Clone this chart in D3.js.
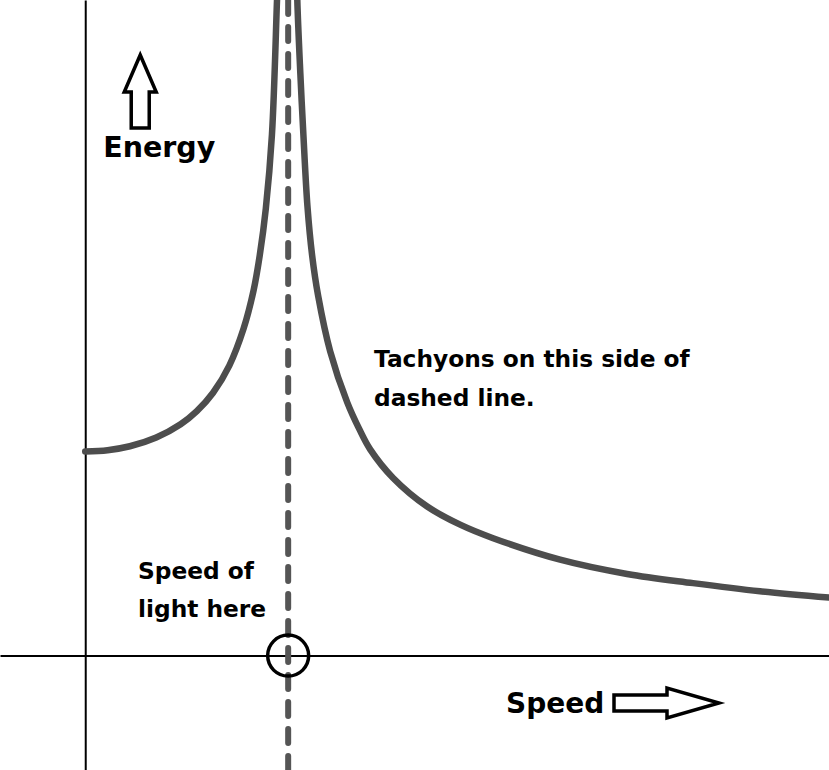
<!DOCTYPE html>
<html>
<head>
<meta charset="utf-8">
<script src="https://cdn.jsdelivr.net/npm/d3@7"></script>
<style>
  html, body { margin: 0; padding: 0; background: #fff; }
  svg { display: block; }
  text { font-family: "DejaVu Sans", sans-serif; font-weight: 700; fill: #000; }
</style>
</head>
<body>
<div id="chart"></div>
<script>
// ---- data (speed in units of c, energy in units of mc^2) ----
const speedBelowC  = [0.00, 0.11, 0.22, 0.35, 0.47, 0.55, 0.63, 0.71, 0.78, 0.83, 0.86, 0.89, 0.92, 0.945, 0.955];
const energyBelowC = [1.00, 1.006, 1.025, 1.068, 1.133, 1.197, 1.287, 1.42, 1.60, 1.79, 1.96, 2.19, 2.55, 3.21, 3.50];

const speedAboveC  = [1.04, 1.045, 1.06, 1.074, 1.095, 1.118, 1.148, 1.207, 1.291, 1.35, 1.404, 1.517, 1.685, 1.85, 2.01, 2.34, 2.67, 2.995, 3.325, 3.665];
const energyAboveC = [3.50, 3.21, 2.85, 2.57, 2.20, 1.96, 1.76, 1.49, 1.24, 1.11, 1.01, 0.87, 0.73, 0.64, 0.575, 0.47, 0.40, 0.355, 0.315, 0.284];

const lightSpeed = [1];
const xAxisLabel = "Speed";
const yAxisLabel = "Energy";
const noteTachyons = ["Tachyons on this side of", "dashed line."];
const noteLight = ["Speed of", "light here"];

const speedDomain = [-0.42, 3.665];
const energyDomain = [-0.56, 3.21];

// ---- layout ----
const W = 829, H = 770;
const svg = d3.select("#chart").append("svg").attr("width", W).attr("height", H);

const x = d3.scaleLinear().domain(speedDomain).range([0, W]);
const y = d3.scaleLinear().domain(energyDomain).range([H, 0]);

// axes (lines only, no ticks)
svg.append("g").attr("transform", `translate(0,${y(0)})`)
  .call(d3.axisBottom(x).tickValues([]).tickSizeOuter(0));
svg.append("g").attr("transform", `translate(${x(0)},0)`)
  .call(d3.axisLeft(y).tickValues([]).tickSizeOuter(0));
svg.selectAll(".domain").attr("stroke", "#000").attr("stroke-width", 2);

// dashed speed-of-light line
svg.selectAll("line.c").data(lightSpeed).join("line")
  .attr("class", "c")
  .attr("x1", d => x(d)).attr("x2", d => x(d))
  .attr("y1", 0).attr("y2", H)
  .attr("stroke", "#555").attr("stroke-width", 6)
  .attr("stroke-linecap", "round")
  .attr("stroke-dasharray", "14 13");

// energy curves
const line = d3.line().x(d => x(d[0])).y(d => y(d[1])).curve(d3.curveCatmullRom.alpha(0.5));
const below = d3.zip(speedBelowC, energyBelowC);
const above = d3.zip(speedAboveC, energyAboveC);
svg.selectAll("path.curve").data([below, above]).join("path")
  .attr("class", "curve")
  .attr("d", line)
  .attr("fill", "none")
  .attr("stroke", "#4d4d4d")
  .attr("stroke-width", 6.5)
  .attr("stroke-linecap", "round");

// circle at speed of light on axis
svg.selectAll("circle.c").data(lightSpeed).join("circle")
  .attr("class", "c")
  .attr("cx", d => x(d)).attr("cy", y(0)).attr("r", 20.5)
  .attr("fill", "none").attr("stroke", "#000").attr("stroke-width", 3.5);

// Energy label + up arrow
svg.append("text").attr("x", x(0) + 18).attr("y", 157).attr("font-size", 28.5).text(yAxisLabel);
const ax = x(0) + 55; // arrow centre
const up = d3.path();
up.moveTo(ax - 9, 128); up.lineTo(ax - 9, 92); up.lineTo(ax - 16, 92);
up.lineTo(ax, 55); up.lineTo(ax + 16, 92); up.lineTo(ax + 9, 92);
up.lineTo(ax + 9, 128); up.closePath();
svg.append("path").attr("d", up.toString()).attr("fill", "#fff")
  .attr("stroke", "#000").attr("stroke-width", 3.5).attr("stroke-linejoin", "miter");

// Speed label + right arrow
svg.append("text").attr("x", 506).attr("y", 713).attr("font-size", 28).text(xAxisLabel);
const ay = 703;
const rt = d3.path();
rt.moveTo(614, ay - 8); rt.lineTo(667, ay - 8); rt.lineTo(667, ay - 15);
rt.lineTo(719, ay); rt.lineTo(667, ay + 15); rt.lineTo(667, ay + 8);
rt.lineTo(614, ay + 8); rt.closePath();
svg.append("path").attr("d", rt.toString()).attr("fill", "#fff")
  .attr("stroke", "#000").attr("stroke-width", 3.5).attr("stroke-linejoin", "miter");

// notes
svg.selectAll("text.tach").data(noteTachyons).join("text")
  .attr("class", "tach").attr("x", 374).attr("y", (d, i) => 367 + i * 39)
  .attr("font-size", 23.3).text(d => d);
svg.selectAll("text.light").data(noteLight).join("text")
  .attr("class", "light").attr("x", 138).attr("y", (d, i) => 579 + i * 38)
  .attr("font-size", 23.3).text(d => d);
</script>
</body>
</html>
